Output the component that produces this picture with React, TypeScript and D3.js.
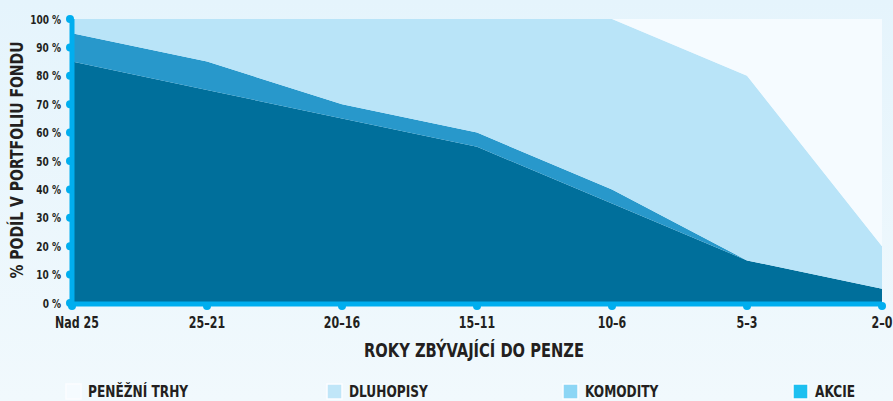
import * as d3 from 'd3';
import React, { useRef, useEffect } from 'react';

// categories (years left until pension)
const categories = ['Nad 25', '25–21', '20–16', '15–11', '10–6', '5–3', '2–0'];
// shares in % per asset type
const akcie = [85, 75, 65, 55, 35, 15, 5];
const komodity = [10, 10, 5, 5, 5, 0, 0];
const dluhopisy = [5, 15, 30, 40, 60, 65, 15];
const penezniTrhy = [0, 0, 0, 0, 0, 20, 80];
const yTicks = [0, 10, 20, 30, 40, 50, 60, 70, 80, 90, 100];
const legendLabels = ['PENĚŽNÍ TRHY', 'DLUHOPISY', 'KOMODITY', 'AKCIE'];

const FONT = '"DejaVu Sans Condensed", "DejaVu Sans", sans-serif';
const INK = '#231f20';

function App() {
  const ref = useRef<SVGSVGElement>(null);

  useEffect(() => {
    const width = 893;
    const height = 401;
    const svg = d3.select(ref.current);
    svg.selectAll('*').remove();

    // condensed look: text squeezed horizontally around its anchor
    const label = (g: any, tx: number, ty: number, sx: number, size: number, anchor: string, txt: string, rot = 0) =>
      g.append('text')
        .attr('transform', `translate(${tx},${ty}) rotate(${rot}) scale(${sx},1)`)
        .attr('text-anchor', anchor)
        .attr('font-family', FONT).attr('font-weight', 'bold').attr('font-size', size)
        .attr('fill', INK)
        .text(txt);

    const defs = svg.append('defs');
    const grad = defs.append('linearGradient')
      .attr('id', 'bg').attr('x1', 0).attr('y1', 0).attr('x2', 0).attr('y2', 1);
    grad.append('stop').attr('offset', '0%').attr('stop-color', '#e5f4fc');
    grad.append('stop').attr('offset', '100%').attr('stop-color', '#f1f9fd');
    svg.append('rect').attr('width', width).attr('height', height).attr('fill', 'url(#bg)');

    const x = d3.scalePoint<string>().domain(categories).range([72, 882]);
    const y = d3.scaleLinear().domain([0, 100]).range([303, 19]);

    const rows = categories.map((c, i) => ({
      cat: c,
      akcie: akcie[i],
      komodity: komodity[i],
      dluhopisy: dluhopisy[i],
      penezni: penezniTrhy[i],
    }));
    const keys = ['akcie', 'komodity', 'dluhopisy', 'penezni'];
    const colors: Record<string, string> = {
      akcie: '#006f9b',
      komodity: '#2898cb',
      dluhopisy: '#b9e4f8',
      penezni: '#f5fbff',
    };
    const series = d3.stack<any>().keys(keys)(rows);

    const area = d3.area<any>()
      .x(d => x(d.data.cat) as number)
      .y0(d => y(d[0]))
      .y1(d => y(d[1]));

    svg.append('g')
      .selectAll('path')
      .data(series)
      .enter()
      .append('path')
      .attr('d', d => area(d as any))
      .attr('fill', d => colors[d.key]);

    const axisColor = '#00aeef';
    // y axis
    svg.append('line')
      .attr('x1', 72).attr('x2', 72)
      .attr('y1', y(100)).attr('y2', y(0) + 2)
      .attr('stroke', axisColor).attr('stroke-width', 5);
    svg.append('g')
      .selectAll('circle')
      .data(yTicks)
      .enter()
      .append('circle')
      .attr('cx', 70).attr('cy', d => y(d)).attr('r', 4)
      .attr('fill', axisColor);
    const yl = svg.append('g');
    yTicks.forEach(t => label(yl, 61, y(t) + 4.5, 0.8, 12.5, 'end', t + ' %'));

    // x axis
    svg.append('line')
      .attr('x1', 70).attr('x2', 882)
      .attr('y1', 304).attr('y2', 304)
      .attr('stroke', axisColor).attr('stroke-width', 5);
    svg.append('g')
      .selectAll('circle')
      .data(categories)
      .enter()
      .append('circle')
      .attr('cx', d => x(d) as number).attr('cy', 306).attr('r', 4)
      .attr('fill', axisColor);
    const xl = svg.append('g');
    categories.forEach((c, i) => label(xl, (x(c) as number) + (i === 0 ? 5 : 0), 328, 0.82, 15, 'middle', c));

    label(svg, 474, 357, 0.86, 19, 'middle', 'ROKY ZBÝVAJÍCÍ DO PENZE');
    label(svg, 23, 160, 0.865, 18, 'middle', '% PODÍL V PORTFOLIU FONDU', -90);

    // legend
    const legendX = [66, 327, 563, 793];
    const legendColors = ['#f5fbff', '#c0e6f8', '#8dd6f5', '#1ec0f0'];
    const lg = svg.append('g');
    legendLabels.forEach((l, i) => {
      lg.append('rect')
        .attr('x', legendX[i]).attr('y', 384).attr('width', 15).attr('height', 15)
        .attr('fill', legendColors[i]).attr('stroke', '#fbfdff').attr('stroke-width', 1.5);
      label(lg, legendX[i] + 22, 397, 0.82, 16.5, 'start', l);
    });
  }, []);

  return (
    <div style={{ position: 'fixed', left: 0, top: 0 }}>
      <svg ref={ref} width={893} height={401} style={{ display: 'block' }}></svg>
    </div>
  );
}

export default App;
